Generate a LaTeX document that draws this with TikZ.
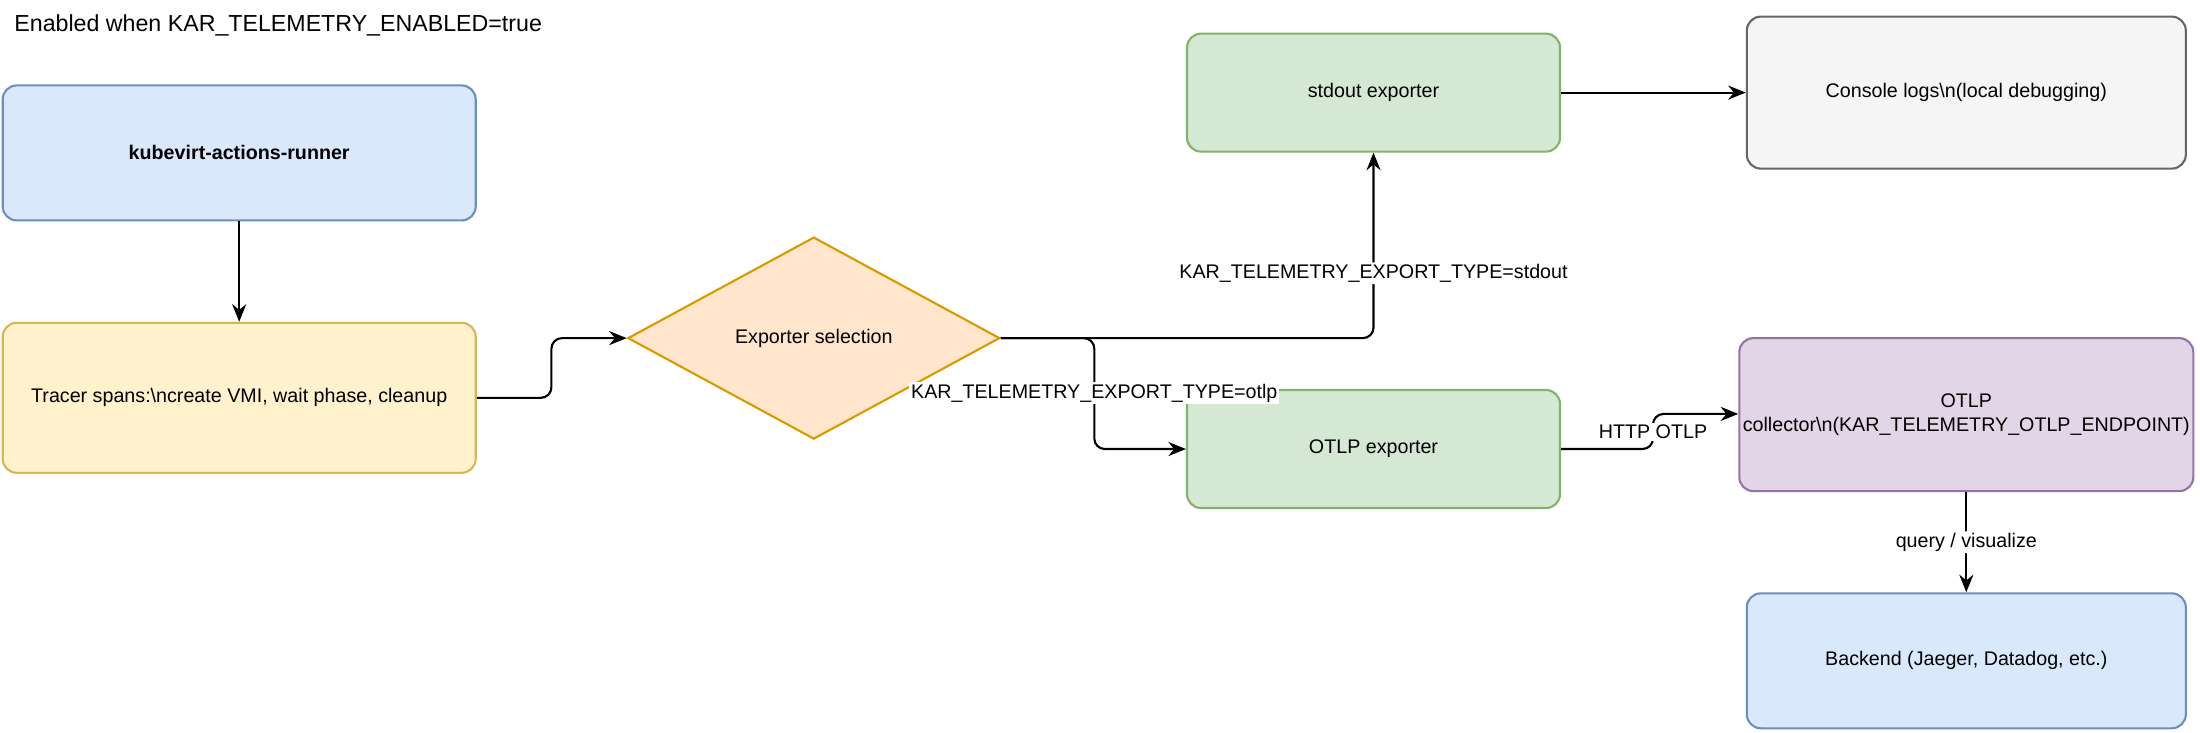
\documentclass[tikz,border=0pt]{standalone}
\usepackage{fontspec}
\setmainfont{Liberation Sans}
\usetikzlibrary{shapes.geometric}
\usetikzlibrary{arrows.meta}
\definecolor{bluefill}{HTML}{DAE8FC}
\definecolor{bluedraw}{HTML}{6C8EBF}
\definecolor{yellowfill}{HTML}{FFF2CC}
\definecolor{yellowdraw}{HTML}{D6B656}
\definecolor{orangefill}{HTML}{FFE6CC}
\definecolor{orangedraw}{HTML}{D79B00}
\definecolor{greenfill}{HTML}{D5E8D4}
\definecolor{greendraw}{HTML}{82B366}
\definecolor{greyfill}{HTML}{F5F5F5}
\definecolor{greydraw}{HTML}{666666}
\definecolor{purplefill}{HTML}{E1D5E7}
\definecolor{purpledraw}{HTML}{9673A6}
\tikzset{
	box/.style={rectangle,rounded corners=0.14cm,draw,line width=0.6pt,align=center,
		font=\fontsize{5.6}{6.8}\selectfont,inner sep=1pt},
	wide box/.style={box,minimum width=4.73cm},
	exp box/.style={box,minimum width=3.73cm,minimum height=1.18cm,fill=greenfill,draw=greendraw},
	far box/.style={box,minimum width=4.39cm},
	decision/.style={diamond,draw,line width=0.6pt,fill=orangefill,draw=orangedraw,inner sep=0pt,
		minimum width=3.72cm,minimum height=2.02cm,font=\fontsize{5.6}{6.8}\selectfont},
	link/.style={-{Stealth[length=5pt,width=4pt]},line width=0.6pt,rounded corners=3pt},
	link label/.style={fill=white,inner sep=0.5pt,font=\fontsize{5.6}{6.8}\selectfont}
}

\begin{document}
\begin{tikzpicture}
	\useasboundingbox (0,0) rectangle (22,-7.32);
	\node [anchor=west,font=\fontsize{6.6}{8}\selectfont] (title) at (0.02,-0.253) {Enabled when KAR\_TELEMETRY\_ENABLED=true};
	% left column
	\node [wide box,minimum height=1.35cm,fill=bluefill,draw=bluedraw,font=\fontsize{5.6}{6.8}\selectfont\bfseries] (runner) at (2.392,-1.529) {kubevirt-actions-runner};
	\node [wide box,minimum height=1.50cm,fill=yellowfill,draw=yellowdraw] (spans) at (2.392,-3.978) {Tracer spans:\textbackslash ncreate VMI, wait phase, cleanup};
	\node [decision] (select) at (8.138,-3.381) {Exporter selection};
	% exporters
	\node [exp box] (stdout) at (13.735,-0.926) {stdout exporter};
	\node [exp box] (otlp) at (13.735,-4.490) {OTLP exporter};
	% sinks
	\node [far box,minimum height=1.52cm,fill=greyfill,draw=greydraw] (console) at (19.663,-0.926) {Console logs\textbackslash n(local debugging)};
	\node [far box,minimum height=1.53cm,fill=purplefill,draw=purpledraw] (collector) at (19.663,-4.146) {OTLP\\collector\textbackslash n(KAR\_TELEMETRY\_OTLP\_ENDPOINT)};
	\node [far box,minimum height=1.35cm,fill=bluefill,draw=bluedraw] (backend) at (19.663,-6.608) {Backend (Jaeger, Datadog, etc.)};

	\draw [link] (runner) -- (spans);
	\draw [link] (spans.east) -- (5.514,-3.978) -- (5.514,-3.381) -- (select.west);
	\draw [link] (select.east) -- (stdout.south |- select.east) -- (stdout.south)
		node [link label,pos=0.35] {KAR\_TELEMETRY\_EXPORT\_TYPE=stdout};
	\draw [link] (select.east) -- (10.943,-3.381) -- (10.943,-4.490) -- (otlp.west);
	\node [link label] (otlplabel) at (10.943,-3.93) {KAR\_TELEMETRY\_EXPORT\_TYPE=otlp};
	\draw [link] (stdout) -- (console);
	\draw [link] (otlp.east) -- (16.53,-4.490) -- (16.53,-4.139) -- (collector.west |- 16.53,-4.139);
	\node [link label] (httplabel) at (16.53,-4.32) {HTTP OTLP};
	\draw [link] (collector) -- (backend) node [link label,midway] {query / visualize};
\end{tikzpicture}
\end{document}
